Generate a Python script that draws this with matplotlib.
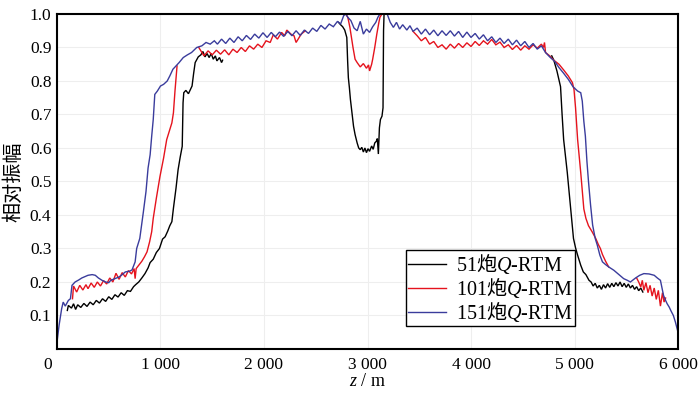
import numpy as np
import matplotlib
matplotlib.use("Agg")
import matplotlib.pyplot as plt
from matplotlib.transforms import ScaledTranslation

nan = np.nan

# ---- data ----
x_black = [100, 110, 140, 160, 180, 200, 230, 260, 290, 320, 350, 380, 410, 440, 470, 500, 530, 560, 590, 620,
           650, 680, 710, 740, 760, 790, 820, 850, 880, 900, 930, 960, 990, 1020, 1045, 1070, 1090, 1110, 1125, 1150,
           1170, 1190, 1210, 1218, 1225, 1245, 1270, 1290, 1305, 1320, 1335, 1365, 1390, 1410, 1430, 1450, 1470, 1490,
           1510, 1530, 1545, 1570, 1590, 1600,
           2000,
           2720, 2740, 2760, 2780, 2800, 2808, 2815, 2825, 2835, 2850, 2865, 2880, 2900, 2915, 2930, 2945, 2960, 2975,
           2990, 3005, 3020, 3040, 3055, 3070, 3085, 3095, 3105, 3115, 3125, 3140, 3150, 3155, 3160, 3180,
           4000,
           4780, 4800, 4830, 4865, 4880, 4895, 4930, 4960, 4990, 5010, 5030, 5060, 5085, 5110, 5140, 5160, 5180, 5200,
           5220, 5240, 5260, 5280, 5300, 5320, 5340, 5360, 5380, 5400, 5420, 5440, 5460, 5480, 5500, 5520, 5540, 5560,
           5580, 5600, 5620, 5640, 5660]
y_black = [0.115, 0.13, 0.122, 0.135, 0.118, 0.132, 0.124, 0.136, 0.127, 0.14, 0.132, 0.145, 0.137, 0.15, 0.142,
           0.156, 0.148, 0.162, 0.155, 0.168, 0.16, 0.174, 0.172, 0.186, 0.192, 0.2, 0.212, 0.225, 0.242, 0.258, 0.268,
           0.288, 0.3, 0.328, 0.335, 0.352, 0.368, 0.38, 0.42, 0.48, 0.535, 0.572, 0.605, 0.735, 0.765, 0.772, 0.762,
           0.775, 0.785, 0.822, 0.855, 0.872, 0.878, 0.888, 0.872, 0.882, 0.87, 0.882, 0.865, 0.875, 0.86, 0.87, 0.855,
           0.862,
           nan,
           0.975, 0.968, 0.962, 0.952, 0.93, 0.86, 0.81, 0.78, 0.745, 0.705, 0.665, 0.64, 0.615, 0.6, 0.595, 0.602,
           0.588, 0.6, 0.586, 0.598, 0.59, 0.606, 0.596, 0.615, 0.62, 0.628, 0.582, 0.66, 0.685, 0.695, 0.72, 0.95,
           1.0, 1.0,
           nan,
           0.875, 0.862, 0.83, 0.783, 0.70, 0.625, 0.527, 0.428, 0.33, 0.302, 0.28, 0.25, 0.23, 0.222, 0.205, 0.2,
           0.188, 0.196, 0.182, 0.19, 0.178, 0.192, 0.182, 0.195, 0.184, 0.196, 0.186, 0.198, 0.188, 0.2, 0.186, 0.196,
           0.184, 0.194, 0.182, 0.19, 0.178, 0.186, 0.174, 0.182, 0.17]

x_red = [150, 160, 190, 220, 250, 280, 300, 330, 360, 390, 420, 450, 480, 510, 540, 570, 600, 630, 660, 690, 720,
         745, 755, 765, 790, 820, 845, 870, 895, 915, 930, 960, 995, 1030, 1060, 1090, 1110, 1125, 1140, 1160,
         1250,
         1370, 1400, 1420, 1460, 1500, 1540, 1580, 1620, 1660, 1700, 1740, 1780, 1820, 1860, 1900, 1940, 1980, 2020,
         2060, 2090, 2130, 2170, 2200, 2220, 2260, 2290, 2310, 2330, 2360, 2400,
         2600,
         2790, 2810, 2830, 2860, 2880, 2900, 2930, 2960, 2990, 3010, 3020, 3040, 3050, 3070, 3090, 3110, 3120, 3140,
         3300,
         3440, 3480, 3520, 3560, 3600, 3640, 3680, 3720, 3760, 3800, 3840, 3880, 3920, 3960, 4000, 4040, 4080, 4120,
         4160, 4200, 4240, 4280, 4320, 4360, 4400, 4440, 4480, 4520, 4560, 4600, 4640, 4680, 4700, 4710, 4720, 4760,
         4800, 4850, 4895, 4940, 4980, 4995, 5010, 5030, 5060, 5090, 5110, 5135, 5170, 5205, 5230, 5250, 5270, 5300,
         5330,
         5450,
         5600, 5620, 5640, 5655, 5670, 5690, 5710, 5730, 5750, 5770, 5790, 5810, 5830, 5850, 5865, 5880]
y_red = [0.15, 0.188, 0.17, 0.19, 0.176, 0.192, 0.18, 0.197, 0.184, 0.2, 0.188, 0.204, 0.194, 0.212, 0.2, 0.226,
         0.208, 0.228, 0.215, 0.234, 0.224, 0.24, 0.21, 0.24, 0.25, 0.262, 0.275, 0.29, 0.32, 0.35, 0.39, 0.45, 0.515,
         0.57, 0.625, 0.655, 0.675, 0.705, 0.77, 0.845,
         nan,
         0.9, 0.885, 0.875, 0.89, 0.878, 0.892, 0.88, 0.893, 0.878, 0.895, 0.885, 0.9, 0.888, 0.905, 0.895, 0.91,
         0.9, 0.92, 0.915, 0.938, 0.925, 0.945, 0.935, 0.952, 0.94, 0.935, 0.915, 0.925, 0.94, 0.95,
         nan,
         1.0, 0.99, 0.96, 0.90, 0.865, 0.855, 0.842, 0.852, 0.838, 0.848, 0.83, 0.85, 0.865, 0.9, 0.94, 0.975, 0.99,
         1.0,
         nan,
         0.948, 0.935, 0.92, 0.93, 0.91, 0.918, 0.9, 0.908, 0.895, 0.91, 0.898, 0.912, 0.9, 0.914, 0.903, 0.918,
         0.906, 0.92, 0.91, 0.924, 0.908, 0.916, 0.9, 0.908, 0.894, 0.906, 0.892, 0.905, 0.895, 0.908, 0.898, 0.91,
         0.9, 0.915, 0.885, 0.875, 0.862, 0.85, 0.833, 0.815, 0.795, 0.775, 0.72, 0.625, 0.527, 0.418, 0.39, 0.368,
         0.35, 0.33, 0.312, 0.3, 0.282, 0.262, 0.245,
         nan,
         0.212, 0.2, 0.185, 0.205, 0.175, 0.198, 0.168, 0.19, 0.158, 0.182, 0.148, 0.175, 0.128, 0.168, 0.14, 0.152]

x_blue = [0, 20, 45, 60, 80, 110, 130, 145, 175, 210, 240, 270, 300, 340, 370, 400, 435, 470, 500, 520, 560, 600,
          630, 660, 700, 725, 755, 770, 800, 835, 860, 880, 900, 915, 930, 945, 970, 1000, 1030, 1065, 1090, 1120,
          1150, 1180, 1220, 1260, 1300, 1350, 1400, 1440, 1480, 1520, 1550, 1590, 1630, 1670, 1710, 1750, 1790, 1830,
          1870, 1910, 1950, 1990, 2030, 2070, 2110, 2150, 2190, 2230, 2270, 2310, 2350, 2390, 2430, 2470, 2510, 2550,
          2590, 2630, 2670, 2710, 2740, 2770, 2790, 2810, 2840, 2870, 2900, 2930, 2960, 2990, 3020, 3050, 3080, 3100,
          3120, 3190, 3220, 3250, 3280, 3310, 3340, 3380, 3410, 3440, 3480, 3520, 3560, 3600, 3640, 3680, 3720, 3760,
          3800, 3840, 3880, 3920, 3960, 4000, 4040, 4080, 4120, 4160, 4200, 4240, 4280, 4320, 4360, 4400, 4440, 4480,
          4520, 4560, 4600, 4640, 4680, 4720, 4760, 4810, 4850, 4890, 4940, 4985, 5030, 5060, 5075, 5090, 5105, 5120,
          5135, 5155, 5175, 5200, 5220, 5245, 5270, 5300, 5330, 5380, 5430, 5475, 5510, 5540, 5590, 5630, 5670, 5720,
          5770, 5800, 5830, 5860, 5880, 5895, 5915, 5930, 5955, 5975, 6000]
y_blue = [0.02, 0.07, 0.12, 0.14, 0.128, 0.145, 0.15, 0.19, 0.2, 0.206, 0.212, 0.216, 0.22, 0.222, 0.22, 0.212,
          0.205, 0.2, 0.198, 0.205, 0.21, 0.215, 0.222, 0.23, 0.232, 0.236, 0.26, 0.3, 0.33, 0.41, 0.47, 0.54, 0.58,
          0.635, 0.685, 0.76, 0.77, 0.785, 0.79, 0.80, 0.815, 0.835, 0.845, 0.855, 0.87, 0.878, 0.885, 0.9, 0.905,
          0.915, 0.91, 0.92, 0.91, 0.925, 0.912, 0.928, 0.915, 0.932, 0.92, 0.936, 0.924, 0.94, 0.928, 0.944, 0.93,
          0.945, 0.932, 0.946, 0.933, 0.948, 0.935, 0.95, 0.936, 0.952, 0.942, 0.958, 0.948, 0.966, 0.955, 0.97,
          0.962, 0.978, 0.97, 0.995, 1.0, 0.99, 0.98, 0.958, 0.95, 0.978, 0.94, 0.955, 0.945, 0.962, 0.975, 0.99,
          1.0, 1.0, 0.975, 0.96, 0.975, 0.955, 0.968, 0.952, 0.965, 0.948, 0.958, 0.94, 0.955, 0.938, 0.952, 0.935,
          0.95, 0.936, 0.95, 0.934, 0.948, 0.93, 0.946, 0.93, 0.942, 0.925, 0.938, 0.92, 0.932, 0.915, 0.928, 0.912,
          0.925, 0.908, 0.922, 0.905, 0.918, 0.9, 0.912, 0.895, 0.905, 0.885, 0.872, 0.858, 0.84, 0.825, 0.805, 0.783,
          0.77, 0.765, 0.74, 0.68, 0.635, 0.56, 0.5, 0.43, 0.37, 0.33, 0.31, 0.28, 0.26, 0.252, 0.245, 0.235, 0.222,
          0.21, 0.205, 0.2, 0.212, 0.22, 0.225, 0.224, 0.22, 0.212, 0.205, 0.16, 0.145, 0.135, 0.125, 0.115, 0.1,
          0.08, 0.05]

labels = [r"51$\mathsf{炮}\mathit{Q}$-RTM", r"101$\mathsf{炮}\mathit{Q}$-RTM", r"151$\mathsf{炮}\mathit{Q}$-RTM"]
colors = ["#000000", "#e5131d", "#3a3c9c"]
x_ticks = [0, 1000, 2000, 3000, 4000, 5000, 6000]
x_ticklabels = ["0", "1 000", "2 000", "3 000", "4 000", "5 000", "6 000"]
y_ticks = [0.1, 0.2, 0.3, 0.4, 0.5, 0.6, 0.7, 0.8, 0.9, 1.0]
y_label = "相对振幅"
x_label = "$z$ / m"

# ---- style ----
plt.rcParams["font.family"] = ["Liberation Serif", "Noto Sans CJK SC"]
plt.rcParams["mathtext.fontset"] = "custom"
plt.rcParams["mathtext.rm"] = "Liberation Serif"
plt.rcParams["mathtext.it"] = "Liberation Serif:italic"
plt.rcParams["mathtext.sf"] = "Noto Sans CJK SC"

fig = plt.figure(figsize=(7.0, 3.93), dpi=100)
ax = fig.add_axes([0.0814, 0.112, 0.8872, 0.8524])

for xs, ys, c, lab in zip([x_black, x_red, x_blue], [y_black, y_red, y_blue], colors, labels):
    ax.plot(xs, ys, color=c, lw=1.0, label=lab, solid_joinstyle="miter")

ax.set_xlim(0, 6000)
ax.set_ylim(0, 1.0)
ax.set_xticks(x_ticks)
ax.set_xticklabels(x_ticklabels)
ax.set_yticks(y_ticks)
ax.set_yticklabels([f"{v:.1f}" for v in y_ticks])
ax.tick_params(length=0, labelsize=12.5, pad=4)
ax.tick_params(axis="x", pad=6)
ax.grid(True, color="#eeeeee", lw=0.8)
ax.set_axisbelow(True)
for s in ax.spines.values():
    s.set_linewidth(1.5)
    s.set_color("black")

lbl0 = ax.get_xticklabels()[0]
lbl0.set_transform(lbl0.get_transform() + ScaledTranslation(-0.095, 0, fig.dpi_scale_trans))

ax.set_ylabel(y_label, family=["Noto Sans CJK SC"], fontsize=14.5, labelpad=4)
ax.set_xlabel(x_label, fontsize=13, labelpad=0)

leg = ax.legend(loc="upper right", bbox_to_anchor=(0.834, 0.2955), fontsize=14.5, frameon=True,
                fancybox=False, edgecolor="black", framealpha=1, handlelength=1.9, handletextpad=0.5,
                labelspacing=0.0, borderpad=0.1, borderaxespad=0)
leg.get_frame().set_linewidth(1.0)

fig.savefig("out.png", dpi=100)
